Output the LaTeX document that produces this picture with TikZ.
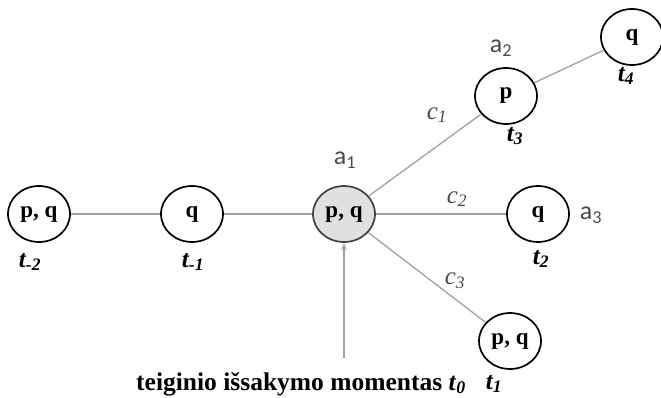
\documentclass[tikz,border=0pt]{standalone}
\usepackage{fontspec}
\setmainfont{Liberation Serif}
\newfontfamily\labsans{Carlito}
\usetikzlibrary{shapes.geometric,arrows.meta}
\definecolor{edgegray}{HTML}{A0A0A0}
\definecolor{labgray}{HTML}{4A4A4A}
\begin{document}
\begin{tikzpicture}[x=1pt,y=-1pt,
  state/.style={ellipse,draw=black,line width=1.7pt,minimum width=62pt,minimum height=56pt,inner sep=0pt,font=\fontsize{23}{27}\selectfont\bfseries},
  mainstate/.style={state,fill=black!12,draw=black!75},
  conn/.style={draw=edgegray,line width=1.3pt},
  tlab/.style={font=\fontsize{25}{29}\selectfont\bfseries\itshape},
  clab/.style={font=\fontsize{25}{29}\selectfont\itshape,text=labgray},
  alab/.style={font=\fontsize{26}{30}\selectfont\labsans,text=labgray}]
\useasboundingbox (0,0) rectangle (661,398);
\node[state] (m2) at (39,214) {p, q};
\node[state] (m1) at (192,214) {q};
\node[mainstate] (a1) at (344,214) {p, q};
\node[state] (a3) at (538,214) {q};
\node[state] (t1n) at (510,341) {p, q};
\node[state] (a2) at (506,96) {p};
\node[state] (t4n) at (632,37) {q};
\draw[conn] (m2) -- (m1);
\draw[conn] (m1) -- (a1);
\draw[conn] (a1) -- (a3);
\draw[conn] (a1) -- (a2);
\draw[conn] (a2) -- (t4n);
\draw[conn] (a1) -- (t1n);
\coordinate (arrstart) at (344,358);
\draw[conn,-{Stealth[length=7pt,width=5pt]}] (arrstart) -- (a1.south);
\node[tlab] (lm2) at (30,262) {t\textsubscript{-2}};
\node[tlab] (lm1) at (193,262) {t\textsubscript{-1}};
\node[tlab] (l2) at (541,259) {t\textsubscript{2}};
\node[tlab] (l1) at (494,384) {t\textsubscript{1}};
\node[tlab] (l3) at (515,136) {t\textsubscript{3}};
\node[tlab] (l4) at (626,76) {t\textsubscript{4}};
\node[clab] (c1) at (437,115) {c\textsubscript{1}};
\node[clab] (c2) at (457,199) {c\textsubscript{2}};
\node[clab] (c3) at (455,281) {c\textsubscript{3}};
\node[alab] (la1) at (345,160) {a\textsubscript{1}};
\node[alab] (la2) at (501,48) {a\textsubscript{2}};
\node[alab] (la3) at (591,215) {a\textsubscript{3}};
\node[font=\fontsize{25.5}{29}\selectfont\bfseries,anchor=base west,inner sep=0pt] (bottom) at (136,390) {teiginio išsakymo momentas \textit{t}\textsubscript{\itshape 0}};
\end{tikzpicture}
\end{document}
